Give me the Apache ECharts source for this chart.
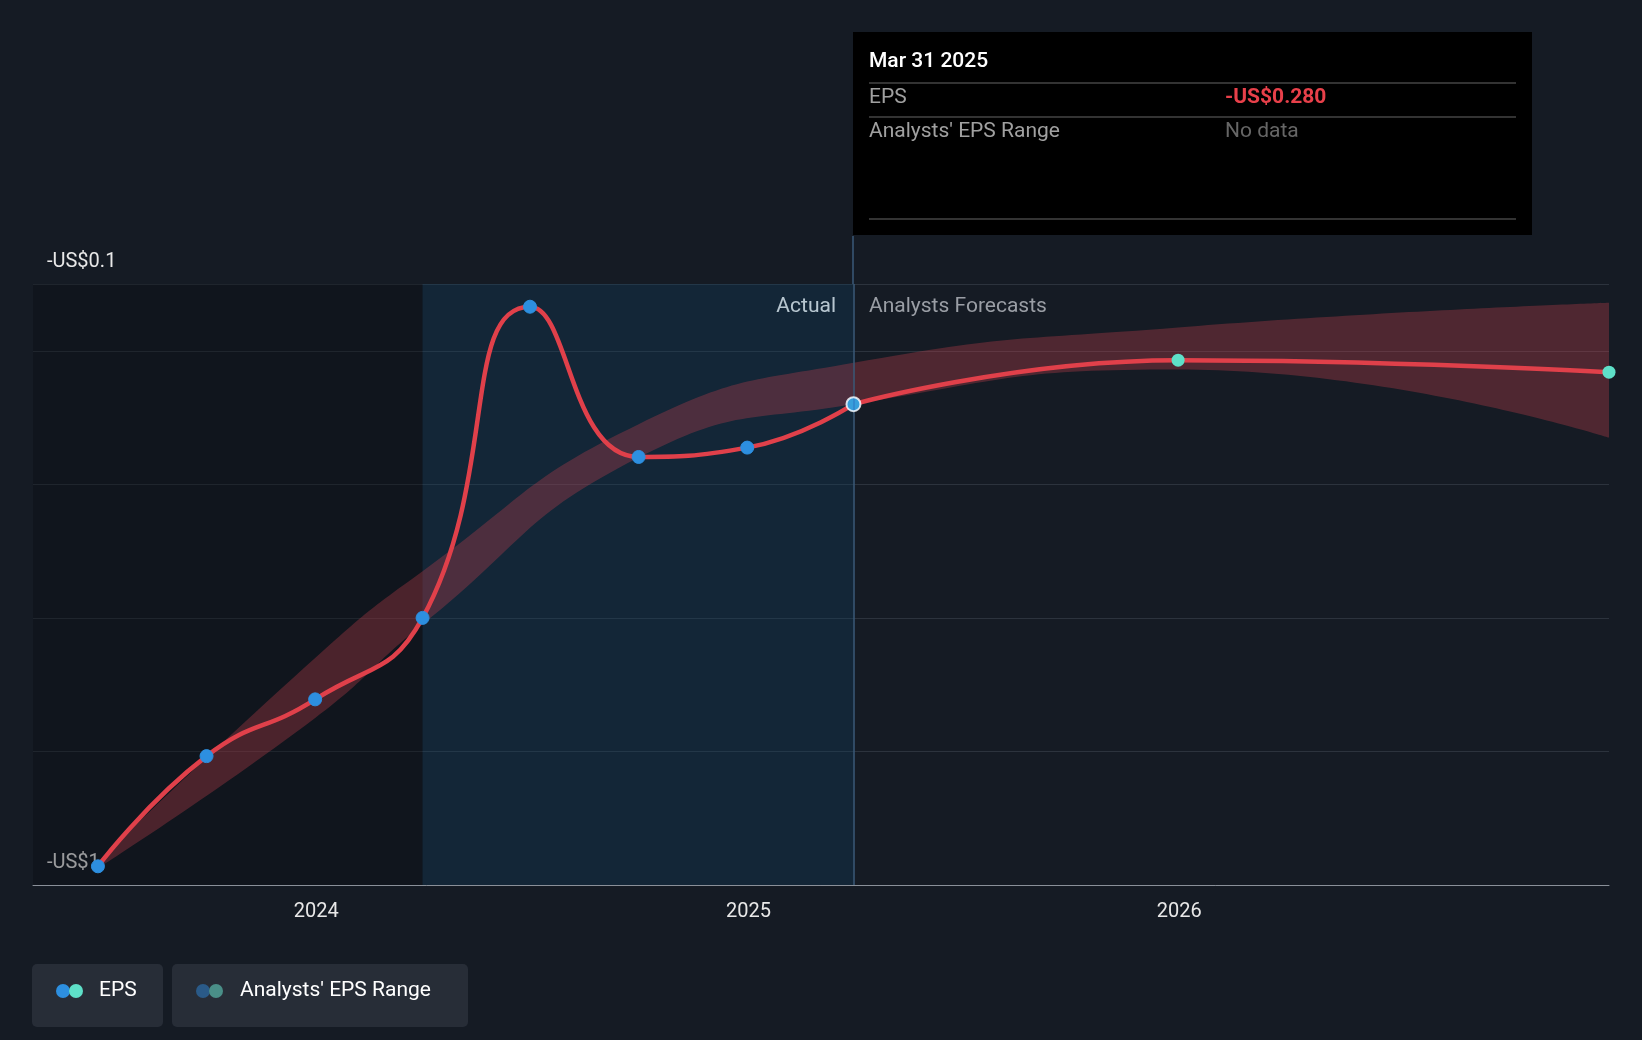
<!DOCTYPE html>
<html><head><meta charset="utf-8">
<script src="https://cdn.jsdelivr.net/npm/echarts@6/dist/echarts.min.js"></script>
<style>html,body{margin:0;background:#151b24}#main{width:1642px;height:1040px}</style>
</head><body><div id="main"></div>
<script>
// actual EPS (quarterly)
var actDates = ['2023-06-30','2023-09-30','2023-12-31','2024-03-31','2024-06-30','2024-09-30','2024-12-31','2025-03-31'];
var actEps = [-0.972,-0.807,-0.722,-0.600,-0.134,-0.359,-0.345,-0.280];
// forecast EPS
var fcDates = ['2025-03-31','2025-12-31','2026-12-31'];
var fcEps = [-0.280,-0.214,-0.232];
// analysts range (history + forecast)
var rangeDates = ['2023-06-30','2023-12-31','2024-03-31','2024-09-30','2025-03-31','2025-12-31','2026-12-31'];
var rangeLow = [-0.975,-0.75,-0.610,-0.36,-0.280,-0.228,-0.330];
var rangeHigh = [-0.965,-0.66,-0.530,-0.31,-0.218,-0.165,-0.128];
var yTicks = {'-1':'-US$1','-0.1':'-US$0.1'};

function pairs(d,v){return d.map(function(x,i){return [x,v[i]];});}
var diff = rangeHigh.map(function(h,i){return h-rangeLow[i];});

var myChart = echarts.init(document.getElementById('main'));
myChart.setOption({
  backgroundColor:'#151b24',
  animation:false,
  grid:{left:33,right:33,top:284,bottom:155},
  xAxis:{type:'time',min:'2023-05-06',max:'2026-12-31',
    axisLine:{lineStyle:{color:'#8a9099'}},axisTick:{show:false},splitLine:{show:false},
    axisLabel:{color:'#e8e8e8',fontSize:20,fontFamily:'Roboto',margin:17,
      formatter:function(v){var d=new Date(v);return (d.getMonth()===0&&d.getDate()===1)?String(d.getFullYear()):'';}}
  },
  yAxis:{type:'value',min:-1,max:-0.1,interval:0.2,
    axisLine:{show:false},axisTick:{show:false},
    splitLine:{lineStyle:{color:'#2c333d',width:1.2}},
    axisLabel:{inside:true,showMaxLabel:true,color:'#e8e8e8',fontSize:20,fontFamily:'Roboto',
      verticalAlign:'bottom',padding:[0,0,12,6],
      formatter:function(v){var k=String(Math.round(v*10)/10);return yTicks[k]||'';}}
  },
  series:[
    {type:'line',stack:'r',stackStrategy:'all',smooth:true,symbol:'none',lineStyle:{width:0},
      data:pairs(rangeDates,rangeLow),z:1,
      markArea:{silent:true,data:[
        [{xAxis:'2023-05-06',itemStyle:{color:'rgba(10,12,16,0.35)'}},{xAxis:'2024-03-31'}],
        [{xAxis:'2024-03-31',itemStyle:{color:'rgba(15,65,100,0.3)'}},{xAxis:'2025-03-31'}]
      ]}},
    {type:'line',stack:'r',stackStrategy:'all',smooth:true,symbol:'none',lineStyle:{width:0},
      areaStyle:{color:'rgba(205,65,80,0.45)'},data:pairs(rangeDates,diff),z:2},
    {type:'line',smooth:true,symbol:'circle',symbolSize:13,data:pairs(actDates,actEps),z:4,
      lineStyle:{color:'#e0404a',width:4.5},itemStyle:{color:'#2d8fe0',borderColor:'#2d8fe0'},
      markLine:{silent:true,symbol:'none',label:{show:false},lineStyle:{color:'#3a5a78',type:'solid',width:1.5},
        data:[[{coord:['2025-03-31',-0.1]},{coord:['2025-03-31',-1]}]]}},
    {type:'line',smooth:true,symbol:'circle',symbolSize:13,data:pairs(fcDates,fcEps),z:4,
      lineStyle:{color:'#e0404a',width:4.5},itemStyle:{color:'#5ee0c8'}},
    {type:'scatter',data:[['2025-03-31',-0.280]],symbolSize:14,z:5,
      itemStyle:{color:'#2d8fe0',borderColor:'#fff',borderWidth:2}}
  ],
  graphic:[
    {type:'line',shape:{x1:853,y1:236,x2:853,y2:284},style:{stroke:'#3a5a78',lineWidth:1.5}},
    {type:'text',right:1642-836,top:296,style:{text:'Actual',fill:'#ffffff',font:'21px Roboto',textAlign:'right'}},
    {type:'text',left:869,top:296,style:{text:'Analysts Forecasts',fill:'#9a9ea5',font:'21px Roboto'}},
    {type:'rect',shape:{x:853,y:32,width:679,height:203},style:{fill:'#000'}},
    {type:'text',left:869,top:51,style:{text:'Mar 31 2025',fill:'#fff',font:'500 21px Roboto'}},
    {type:'line',shape:{x1:869,y1:83,x2:1516,y2:83},style:{stroke:'#444',lineWidth:1.5}},
    {type:'text',left:869,top:87,style:{text:'EPS',fill:'#a0a0a0',font:'21px Roboto'}},
    {type:'text',left:1225,top:87,style:{text:'-US$0.280',fill:'#e8404a',font:'bold 21px Roboto'}},
    {type:'line',shape:{x1:869,y1:117,x2:1516,y2:117},style:{stroke:'#444',lineWidth:1.5}},
    {type:'text',left:869,top:121,style:{text:"Analysts' EPS Range",fill:'#a0a0a0',font:'21px Roboto'}},
    {type:'text',left:1225,top:121,style:{text:'No data',fill:'#666',font:'21px Roboto'}},
    {type:'line',shape:{x1:869,y1:219,x2:1516,y2:219},style:{stroke:'#444',lineWidth:1.5}},
    {type:'rect',shape:{x:32,y:964,width:131,height:63,r:5},style:{fill:'#272d37'}},
    {type:'circle',shape:{cx:63,cy:991,r:7},style:{fill:'#2d8fe0'}},
    {type:'circle',shape:{cx:76,cy:991,r:7},style:{fill:'#5ee0c8'}},
    {type:'text',left:99,top:980,style:{text:'EPS',fill:'#fff',font:'21px Roboto'}},
    {type:'rect',shape:{x:172,y:964,width:296,height:63,r:5},style:{fill:'#272d37'}},
    {type:'circle',shape:{cx:203,cy:991,r:7},style:{fill:'#2a5a88'}},
    {type:'circle',shape:{cx:216,cy:991,r:7},style:{fill:'#4a8f88'}},
    {type:'text',left:240,top:980,style:{text:"Analysts' EPS Range",fill:'#fff',font:'21px Roboto'}}
  ]
});
</script></body></html>
